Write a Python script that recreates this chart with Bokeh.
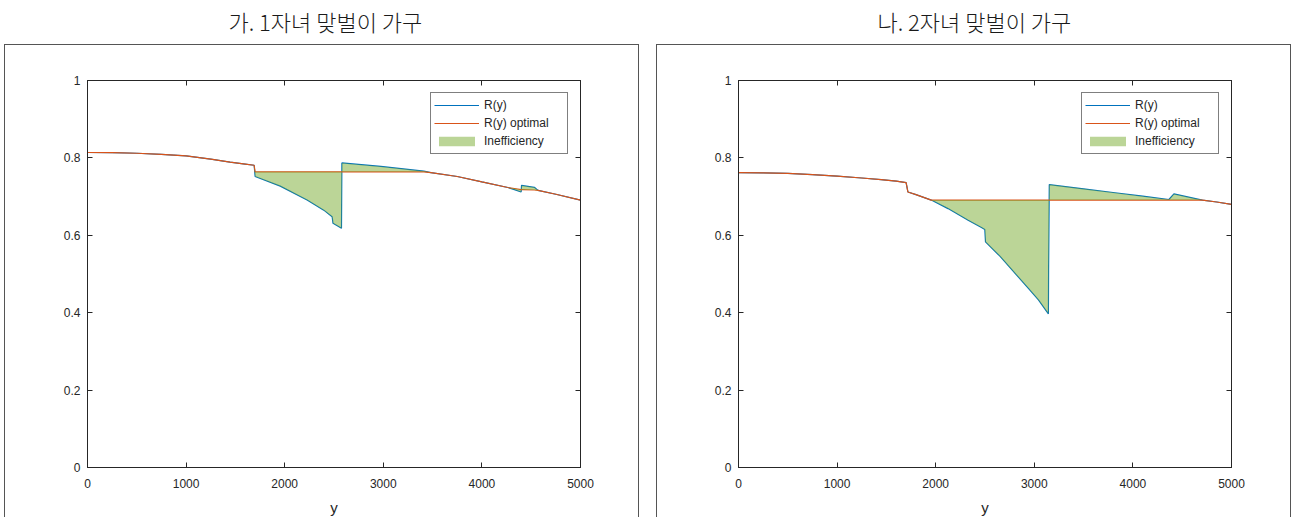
from bokeh.plotting import figure
from bokeh.layouts import row, column, Spacer
from bokeh.models import FixedTicker, LinearAxis, Range1d, Legend, LegendItem, ColumnDataSource, Title
from bokeh.embed import file_html
from bokeh.resources import INLINE

titles = ["가. 1자녀 맞벌이 가구", "나. 2자녀 맞벌이 가구"]
x_label = "y"
x_ticks = [0, 1000, 2000, 3000, 4000, 5000]
y_ticks = [0, 0.2, 0.4, 0.6, 0.8, 1]
series_names = ["R(y)", "R(y) optimal", "Inefficiency"]

# Panel 1 (가)
p1_x = [0, 250, 500, 750, 1000, 1250, 1446, 1600, 1690, 1700, 1955, 2227, 2396, 2481, 2490,
        2576, 2580, 2974, 3411, 3483, 3750, 4000, 4263, 4330, 4398, 4402, 4532, 4569, 4750, 5000]
p1_ropt = [0.814, 0.8135, 0.812, 0.809, 0.805, 0.797, 0.789, 0.784, 0.781, 0.764, 0.764, 0.764,
           0.764, 0.764, 0.764, 0.764, 0.764, 0.764, 0.764, 0.762, 0.752, 0.738, 0.7235, 0.721,
           0.718, 0.718, 0.717, 0.716, 0.706, 0.691]
p1_r = [0.814, 0.8135, 0.812, 0.809, 0.805, 0.797, 0.789, 0.784, 0.781, 0.752, 0.727, 0.691,
        0.665, 0.648, 0.631, 0.618, 0.787, 0.778, 0.766, 0.762, 0.752, 0.738, 0.7235, 0.718,
        0.712, 0.729, 0.724, 0.716, 0.706, 0.691]

# Panel 2 (나)
p2_x = [0, 250, 500, 750, 1000, 1250, 1446, 1600, 1700, 1718, 1800, 1955, 2125, 2329, 2464,
        2498, 2505, 2651, 2821, 2940, 3042, 3143, 3145, 3152, 3500, 3819, 4100, 4365, 4416,
        4705, 4850, 5000]
p2_ropt = [0.762, 0.7615, 0.760, 0.757, 0.753, 0.748, 0.744, 0.740, 0.736, 0.712, 0.705, 0.691,
           0.691, 0.691, 0.691, 0.691, 0.691, 0.691, 0.691, 0.691, 0.691, 0.691, 0.691, 0.691,
           0.691, 0.691, 0.691, 0.691, 0.691, 0.691, 0.686, 0.680]
p2_r = [0.762, 0.7615, 0.760, 0.757, 0.753, 0.748, 0.744, 0.740, 0.736, 0.712, 0.705, 0.691,
        0.669, 0.639, 0.620, 0.615, 0.583, 0.546, 0.497, 0.463, 0.433, 0.397, 0.510, 0.731,
        0.720, 0.710, 0.701, 0.6925, 0.707, 0.691, 0.686, 0.680]

BLUE = "#0072BD"
ORANGE = "#D95319"
GREEN = "#77AC30"
AX = "#262626"
FONT = "Liberation Sans"


def style_axis(ax, standoff):
    ax.axis_line_color = AX
    ax.major_tick_line_color = AX
    ax.major_tick_in = 5
    ax.major_tick_out = 0
    ax.minor_tick_line_color = None
    ax.major_label_text_font = FONT
    ax.major_label_text_color = AX
    ax.major_label_text_font_size = "12px"
    ax.major_label_standoff = standoff


def make_panel(title, xs, r, ropt, W, L, R, title_off):
    tf = figure(width=W, height=44, toolbar_location=None, output_backend="svg",
                min_border=0, outline_line_color=None)
    tf.add_layout(Title(text=title, align="left", text_font="Noto Sans CJK KR Light",
                        text_font_size="22px", text_font_style="normal",
                        text_color="#1a1a1a", standoff=4, offset=title_off), "above")
    tf.xaxis.visible = False
    tf.yaxis.visible = False
    tf.grid.visible = False

    p = figure(width=W, height=473, x_range=Range1d(0, 5000), y_range=Range1d(0, 1),
               toolbar_location=None, output_backend="svg",
               min_border_left=L, min_border_right=R, min_border_top=35, min_border_bottom=49,
               styles={"border": "1px solid #555555", "border-bottom": "none"})
    p.grid.visible = False
    p.outline_line_color = AX
    src = ColumnDataSource(dict(x=xs, r=r, ropt=ropt))
    l1 = p.line("x", "r", source=src, line_color=BLUE, line_width=1.2)
    l2 = p.line("x", "ropt", source=src, line_color=ORANGE, line_width=1.2)
    fa = p.varea(x="x", y1="r", y2="ropt", source=src, fill_color=GREEN, fill_alpha=0.5)

    p.xaxis.ticker = FixedTicker(ticks=x_ticks)
    p.yaxis.ticker = FixedTicker(ticks=y_ticks)
    p.yaxis.major_label_overrides = {t: ("%g" % t) for t in y_ticks}
    style_axis(p.xaxis[0], 11)
    style_axis(p.yaxis[0], 7)
    p.xaxis.axis_label = x_label
    p.xaxis.axis_label_text_font = FONT
    p.xaxis.axis_label_text_font_size = "15px"
    p.xaxis.axis_label_text_font_style = "normal"
    p.xaxis.axis_label_text_color = AX
    p.xaxis.axis_label_standoff = 8

    ra = LinearAxis(ticker=FixedTicker(ticks=y_ticks))
    style_axis(ra, 0)
    ra.major_label_overrides = {t: "" for t in y_ticks}
    p.add_layout(ra, "right")
    ta = LinearAxis(ticker=FixedTicker(ticks=x_ticks))
    style_axis(ta, 0)
    ta.major_label_overrides = {t: "" for t in x_ticks}
    p.add_layout(ta, "above")

    leg = Legend(items=[LegendItem(label=series_names[0], renderers=[l1]),
                        LegendItem(label=series_names[1], renderers=[l2]),
                        LegendItem(label=series_names[2], renderers=[fa])],
                 location="top_right", margin=12, padding=3, spacing=0,
                 border_line_color="black", border_line_width=1,
                 label_text_font=FONT, label_text_font_size="12px", label_text_color=AX,
                 glyph_width=45, glyph_height=12, label_height=18, label_standoff=5,
                 label_width=80)
    p.add_layout(leg)
    return column(tf, p, spacing=0)


c1 = make_panel(titles[0], p1_x, p1_r, p1_ropt, 635, 82, 60, 142)
c2 = make_panel(titles[1], p2_x, p2_r, p2_ropt, 635, 81, 61, 140)
layout = row(Spacer(width=4, height=10), c1, Spacer(width=17, height=10), c2, spacing=0)

open("out.html", "w").write(file_html(layout, INLINE))
